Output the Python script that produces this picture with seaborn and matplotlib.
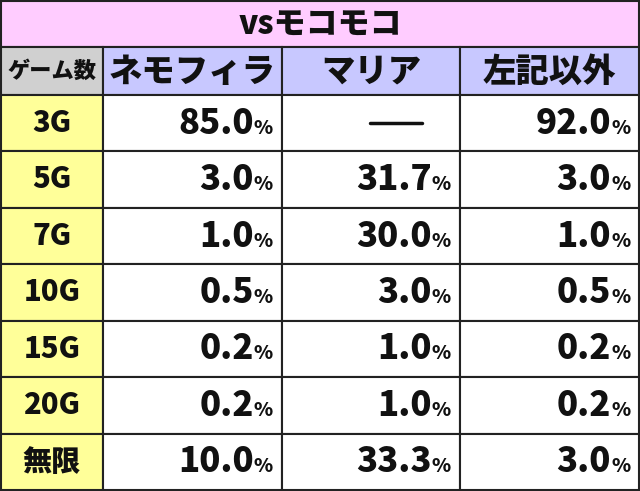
import matplotlib
matplotlib.use("Agg")
import matplotlib.pyplot as plt
import seaborn as sns
from matplotlib.patches import Rectangle

sns.set_theme(style="white")
plt.rcParams['font.family'] = ['Noto Sans CJK JP', 'DejaVu Sans']

title = "vsモコモコ"
corner = "ゲーム数"
columns = ["ネモフィラ", "マリア", "左記以外"]
rows = ["3G", "5G", "7G", "10G", "15G", "20G", "無限"]
nemophila = ["85.0", "3.0", "1.0", "0.5", "0.2", "0.2", "10.0"]
maria = [None, "31.7", "30.0", "3.0", "1.0", "1.0", "33.3"]
others = ["92.0", "3.0", "1.0", "0.5", "0.2", "0.2", "3.0"]

W, H = 640, 491
fig = plt.figure(figsize=(6.4, 4.91), dpi=100)
ax = fig.add_axes([0, 0, 1, 1])
ax.set_xlim(0, W); ax.set_ylim(H, 0); ax.axis("off")

xs = [1, 103, 282, 460, 639]
title_h = 47
head_top, head_bot = 47, 95
row_h = (H - 1 - head_bot) / len(rows)
lw = 1.5
WT = "heavy"

def cell(x0, y0, x1, y1, fc):
    ax.add_patch(Rectangle((x0, y0), x1 - x0, y1 - y0, facecolor=fc, edgecolor="#222222", lw=lw))

cell(1, 1, 639, title_h, "#ffccff")
ax.text(W / 2, title_h / 2 + 1, title, ha="center", va="center", fontsize=23, fontweight=WT, color="#111111")
cell(xs[0], head_top, xs[1], head_bot, "#d0d0d0")
ax.text((xs[0] + xs[1]) / 2, (head_top + head_bot) / 2, corner, ha="center", va="center", fontsize=16, fontweight=WT, color="#111111")
for i, c in enumerate(columns):
    cell(xs[i + 1], head_top, xs[i + 2], head_bot, "#c8c8ff")
    ax.text((xs[i + 1] + xs[i + 2]) / 2, (head_top + head_bot) / 2, c, ha="center", va="center", fontsize=24, fontweight=WT, color="#111111")

series = [nemophila, maria, others]
for r, name in enumerate(rows):
    y0 = head_bot + r * row_h
    y1 = y0 + row_h
    yc = (y0 + y1) / 2
    cell(xs[0], y0, xs[1], y1, "#ffff99")
    ax.text((xs[0] + xs[1]) / 2, yc, name, ha="center", va="center", fontsize=21, fontweight=WT, color="#111111")
    for j, s in enumerate(series):
        cell(xs[j + 1], y0, xs[j + 2], y1, "white")
        v = s[r]
        if v is None:
            ax.plot([xs[j + 1] + 88, xs[j + 1] + 140], [yc, yc], color="#111111", lw=2.5)
        else:
            ax.text(xs[j + 2] - 28, yc, v, ha="right", va="center", fontsize=25, fontweight=WT, color="#111111")
            ax.text(xs[j + 2] - 28, yc + 5, "%", ha="left", va="center", fontsize=14, fontweight=WT, color="#111111")

fig.savefig("out.png", dpi=100)
